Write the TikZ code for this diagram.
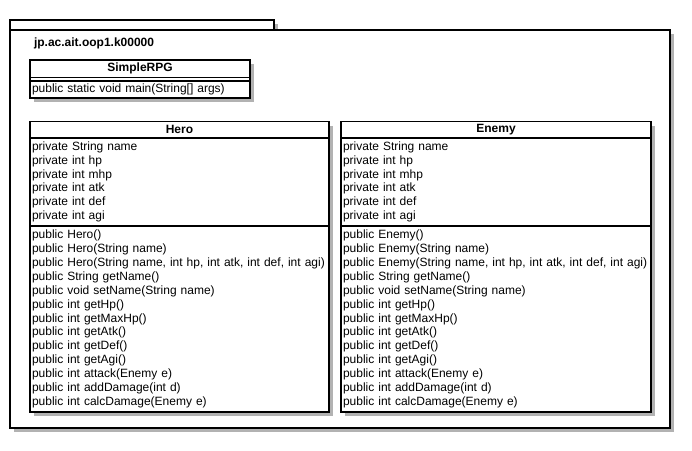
\documentclass[tikz,border=0pt]{standalone}
\usepackage{fontspec}
\setmainfont{Liberation Sans}
\usetikzlibrary{shadows}

\begin{document}
\begin{tikzpicture}[x=1pt,y=-1pt,line width=1.9pt,font=\fontsize{12}{13.9}\selectfont]
    \tikzstyle{every node}=[outer sep=0pt, inner xsep=2pt]
    \tikzstyle{boxshadow}=[drop shadow={shadow xshift=4pt, shadow yshift=-4pt, fill=black!30, opacity=1}]
    \tikzstyle{classname}=[draw, fill=white, boxshadow, anchor=north west, align=center, font=\fontsize{12}{13.9}\selectfont\bfseries, minimum height=16.5pt, inner ysep=0pt]
    \tikzstyle{classpart}=[draw, fill=white, boxshadow, anchor=north west, align=left, inner ysep=2.5pt]
    \useasboundingbox (0,0) rectangle (692,450);

    % package
	\fill [black!30] (14,24) rectangle (278,34);
	\fill [black!30] (14,34) rectangle (674,432);
	\draw [fill=white] (10,20) rectangle (274,30);
	\draw [fill=white] (10,30) rectangle (670,428);
	\node [anchor=base west, inner sep=0pt, font=\fontsize{12}{13.9}\selectfont\bfseries] (pkg) at (34,46.7) {jp.ac.ait.oop1.k00000};

    % SimpleRPG
	\node [classname, text width=216pt, minimum height=17.5pt] (rpgname) at (30,60) {SimpleRPG};
	\node [classpart, text width=216pt, minimum height=3.7pt, inner ysep=0pt] (rpgattr) at (rpgname.south west) {};
	\node [classpart, text width=216pt, inner ysep=1.3pt] (rpgmeth) at (rpgattr.south west) {\strut public static void main(String[] args)};

    % Hero
	\node [classname, text width=295pt] (heroname) at (30,121.5) {Hero};
	\node [classpart, text width=295pt] (heroattr) at (heroname.south west) {\strut private String name\\ private int hp\\ private int mhp\\ private int atk\\ private int def\\ private int agi\strut};
	\node [classpart, text width=295pt] (herometh) at (heroattr.south west) {\strut public Hero()\\ public Hero(String name)\\ public Hero(String name, int hp, int atk, int def, int agi)\\ public String getName()\\ public void setName(String name)\\ public int getHp()\\ public int getMaxHp()\\ public int getAtk()\\ public int getDef()\\ public int getAgi()\\ public int attack(Enemy e)\\ public int addDamage(int d)\\ public int calcDamage(Enemy e)\strut};

    % Enemy
	\node [classname, text width=306pt] (enemyname) at (341,121.5) {Enemy};
	\node [classpart, text width=306pt] (enemyattr) at (enemyname.south west) {\strut private String name\\ private int hp\\ private int mhp\\ private int atk\\ private int def\\ private int agi\strut};
	\node [classpart, text width=306pt] (enemymeth) at (enemyattr.south west) {\strut public Enemy()\\ public Enemy(String name)\\ public Enemy(String name, int hp, int atk, int def, int agi)\\ public String getName()\\ public void setName(String name)\\ public int getHp()\\ public int getMaxHp()\\ public int getAtk()\\ public int getDef()\\ public int getAgi()\\ public int attack(Enemy e)\\ public int addDamage(int d)\\ public int calcDamage(Enemy e)\strut};
\end{tikzpicture}
\end{document}
